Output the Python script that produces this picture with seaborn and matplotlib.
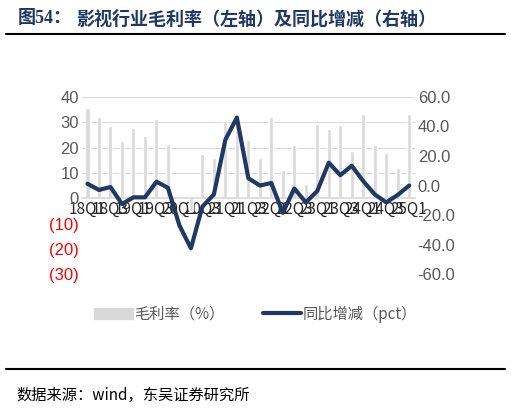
import numpy as np
import pandas as pd
import seaborn as sns
import matplotlib.pyplot as plt
from matplotlib.patches import Patch
from matplotlib.lines import Line2D

quarters = [f"{y}Q{q}" for y in range(18, 26) for q in range(1, 5)][:29]
margin = [35.5, 32.2, 28.7, 22.4, 27.9, 24.5, 31.4, 21.3, 0.3, -5.0, 17.6, 15.8, 30.3, 33.0,
          23.0, 16.0, 32.2, 11.2, 21.2, 5.5, 29.3, 27.2, 28.8, 18.7, 33.4, 21.2, 18.0, 12.1, 33.4]
yoy = [1.2, -3.0, -1.0, -12.5, -8.0, -8.0, 2.6, -1.5, -27.0, -42.5, -14.3, -6.0, 31.0, 46.0,
       5.0, 0.0, 1.7, -18.4, -2.0, -11.4, -3.7, 15.5, 7.0, 13.4, 3.0, -6.0, -11.4, -6.4, 0.0]
left_ticks = [40, 30, 20, 10, 0, -10, -20, -30]
left_labels = ["40", "30", "20", "10", "0", "(10)", "(20)", "(30)"]
right_ticks = [60, 40, 20, 0, -20, -40, -60]

sns.set_theme(style="white")
plt.rcParams['font.family'] = ['Noto Sans CJK SC', 'DejaVu Sans']

fig = plt.figure(figsize=(5.11, 4.16), dpi=100)
ax = fig.add_axes([0.16, 0.341, 0.652, 0.426])
df = pd.DataFrame({"q": quarters, "m": margin, "y": yoy})
sns.barplot(data=df, x="q", y="m", order=quarters, color="#d9d9d9", width=0.35,
            saturation=1, ax=ax, zorder=2)
ax.set_ylim(-30, 40)
ax.set_yticks(left_ticks)
ax.set_yticklabels(left_labels, fontsize=12)
for t, v in zip(ax.get_yticklabels(), left_ticks):
    t.set_color("#ff0000" if v < 0 else "#595959")
    t.set_family(['Liberation Sans'])
for v in [40, 30, 20, 10]:
    ax.axhline(v, color="#d9d9d9", lw=0.8, zorder=0)
ax.set_xlim(-0.5, 28.5)
ax.set_xticks(range(0, 29, 2))
ax.set_xticklabels(quarters[::2])
for t in ax.get_xticklabels():
    t.set_rotation(90)
    t.set_fontsize(12)
    t.set_color("#595959")
    t.set_family(['Liberation Sans'])
    t.set_va('top')
    t.set_ha('center')
ax.spines['bottom'].set_position(('data', 0))
ax.spines['bottom'].set_color("#d9d9d9")
for s in ['top', 'right', 'left']:
    ax.spines[s].set_visible(False)
ax.tick_params(axis='both', length=0, pad=2)
ax.set_xlabel(""); ax.set_ylabel("")

ax2 = ax.twinx()
sns.lineplot(x=np.arange(29), y=yoy, color="#1f3864", lw=3, ax=ax2)
ax2.set_ylim(-60, 60)
ax2.set_yticks(right_ticks)
ax2.set_yticklabels([f"{v:.1f}" for v in right_ticks], fontsize=12, color="#595959")
for t in ax2.get_yticklabels():
    t.set_family(['Liberation Sans'])
ax2.tick_params(axis='y', length=0, pad=2)
for s in ax2.spines.values():
    s.set_visible(False)

handles = [Patch(color="#d9d9d9"), Line2D([], [], color="#1f3864", lw=3)]
fig.legend(handles, ["毛利率（%）", "同比增减（pct）"], loc="center", bbox_to_anchor=(0.5, 0.245),
           ncol=2, frameon=False, fontsize=11, labelcolor="#595959", handlelength=2.5,
           columnspacing=2.5, handletextpad=0.1)

fig.text(0.035, 0.955, "图54：", fontsize=13, fontweight="bold", color="#1f3864",
         va="center", family=['Liberation Serif', 'Noto Sans CJK SC'])
fig.text(0.15, 0.955, "影视行业毛利率（左轴）及同比增减（右轴）", fontsize=13, fontweight="bold",
         color="#1f3864", va="center")
fig.add_artist(Line2D([0.012, 0.988], [0.918, 0.918], color="black", lw=1.5))
fig.add_artist(Line2D([0.012, 0.988], [0.113, 0.113], color="black", lw=1.5))
fig.text(0.033, 0.05, "数据来源：wind，东吴证券研究所", fontsize=11, color="black", va="center")

fig.savefig("out.png", dpi=100)
